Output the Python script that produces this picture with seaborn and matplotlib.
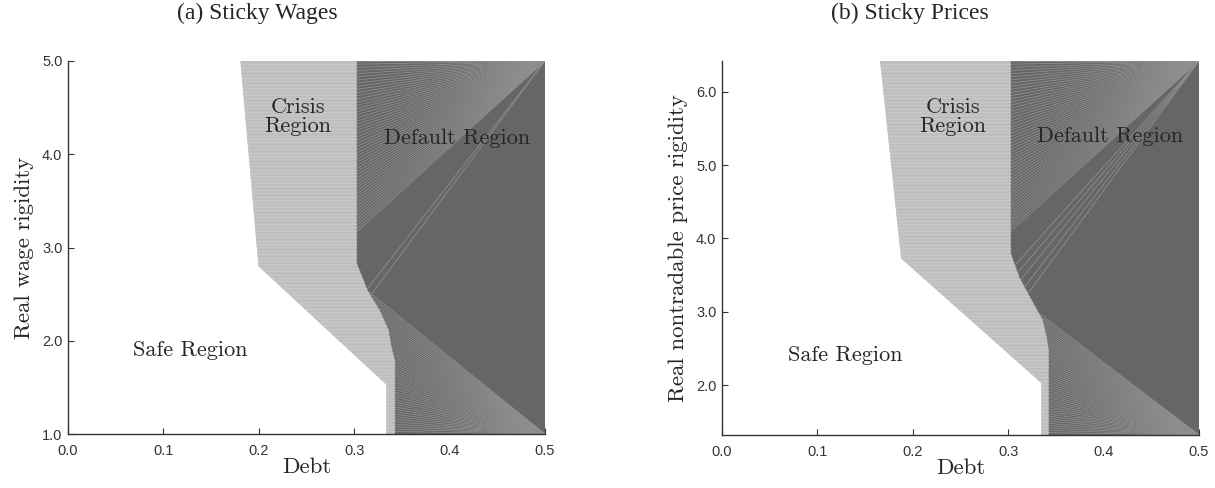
import numpy as np
import matplotlib
matplotlib.use("Agg")
import matplotlib.pyplot as plt
import seaborn as sns
from matplotlib.patches import Polygon
from matplotlib.collections import LineCollection

# ---------------- data ----------------
x_ticks = [0.0, 0.1, 0.2, 0.3, 0.4, 0.5]
x_tick_labels = ["0.0", "0.1", "0.2", "0.3", "0.4", "0.5"]

# (a) Sticky Wages
wage_y_ticks = [1.0, 2.0, 3.0, 4.0, 5.0]
wage_y_labels = ["1.0", "2.0", "3.0", "4.0", "5.0"]
wage_ylim = (1.0, 5.0)
wage_crisis_x = [0.181, 0.200, 0.334, 0.334]          # safe / crisis boundary
wage_crisis_y = [5.00, 2.80, 1.53, 1.00]
wage_default_x = [0.303, 0.303, 0.3145, 0.327, 0.3365, 0.3396, 0.343, 0.343]  # crisis / default
wage_default_y = [5.00, 2.83, 2.54, 2.33, 2.115, 1.93, 1.79, 1.00]

# (b) Sticky Prices
price_y_ticks = [2.0, 3.0, 4.0, 5.0, 6.0]
price_y_labels = ["2.0", "3.0", "4.0", "5.0", "6.0"]
price_ylim = (1.32, 6.42)
price_crisis_x = [0.166, 0.188, 0.335, 0.335]
price_crisis_y = [6.42, 3.73, 2.03, 1.32]
price_default_x = [0.303, 0.303, 0.312, 0.325, 0.3365, 0.3407, 0.3428, 0.3428]
price_default_y = [6.42, 3.80, 3.47, 3.16, 2.89, 2.655, 2.48, 1.32]

# region labels (x, y)
wage_labels = {"Crisis\nRegion": (0.241, 4.40), "Default Region": (0.408, 4.17),
               "Safe Region": (0.128, 1.90)}
price_labels = {"Crisis\nRegion": (0.242, 5.66), "Default Region": (0.407, 5.39),
                "Safe Region": (0.129, 2.41)}

# texture lines of the rendered patches (end points on the left side)
wage_top_fan = (3.05, 5.0)      # y-range of top fan ends at x=0.29
wage_bottom_fan = (1.0, 2.65)   # y-range of bottom fan ends at x=0.30
wage_diag_ends = [(0.314, 2.56), (0.318, 2.50)]
price_top_fan = (3.95, 6.42)
price_bottom_fan = (1.32, 3.30)
price_diag_ends = [(0.306, 3.62), (0.309, 3.52), (0.312, 3.42), (0.316, 3.32), (0.320, 3.24)]

LIGHT = "#bfbfbf"
STRIPE = "#cdcdcd"
DARK = "#666666"
FAN = "#8e8e8e"

sns.set_theme(style="ticks")
plt.rcParams["font.family"] = ["Liberation Sans", "DejaVu Sans"]

fig = plt.figure(figsize=(12.15, 4.88), dpi=100)
ax_a = fig.add_axes([68 / 1215, (488 - 434) / 488, 477 / 1215, 373 / 488])
ax_b = fig.add_axes([722 / 1215, (488 - 435) / 488, 477 / 1215, 374 / 488])

SERIF = ["cmr10", "DejaVu Serif"]


def draw_panel(ax, cx, cy, dx, dy, ylim, top_fan, bottom_fan, diag_ends,
               yticks, ylabels, ylabel, labels):
    ymin, ymax = ylim
    crisis_poly = list(zip(cx, cy)) + list(zip(dx[::-1], dy[::-1]))
    default_poly = list(zip(dx, dy)) + [(0.5, ymin), (0.5, ymax)]

    pc = Polygon(crisis_poly, closed=True, facecolor=LIGHT, edgecolor=LIGHT, lw=0.5, zorder=1)
    pd = Polygon(default_poly, closed=True, facecolor=DARK, edgecolor=DARK, lw=0.5, zorder=1)
    ax.add_patch(pc)
    ax.add_patch(pd)

    # horizontal stripe texture in the crisis region
    ys = np.arange(ymin, ymax, (ymax - ymin) / 110.0)
    st = ax.hlines(ys, 0, 0.5, color=STRIPE, lw=0.5, zorder=2)
    st.set_clip_path(pc)

    # fan textures in the default region
    segs = []
    for y in np.linspace(top_fan[0], top_fan[1], 55):
        segs.append([(0.5, ymax), (0.29, y)])
    for y in np.linspace(bottom_fan[0], bottom_fan[1], 50):
        segs.append([(0.5, ymin), (0.30, y)])
    for (ex, ey) in diag_ends:
        segs.append([(0.5, ymax), (ex, ey)])
    lc = LineCollection(segs, colors=FAN, linewidths=0.6, zorder=2)
    ax.add_collection(lc)
    lc.set_clip_path(pd)

    ax.set_xlim(0, 0.5)
    ax.set_ylim(ymin, ymax)
    ax.set_xticks(x_ticks)
    ax.set_xticklabels(x_tick_labels)
    ax.set_yticks(yticks)
    ax.set_yticklabels(ylabels)
    ax.tick_params(direction="in", length=4, width=0.8, labelsize=10.5,
                   colors="#333333")
    ax.tick_params(axis="x", pad=7)
    ax.tick_params(axis="y", pad=4)
    for s in ("left", "bottom"):
        ax.spines[s].set_color("#333333")
        ax.spines[s].set_linewidth(1.0)
    sns.despine(ax=ax)
    ax.set_xlabel("Debt", fontsize=16.5, family=SERIF, labelpad=0)
    ax.set_ylabel(ylabel, fontsize=16.5, family=SERIF, labelpad=6)
    for txt, (tx, ty) in labels.items():
        ax.text(tx, ty, txt, ha="center", va="center", fontsize=16,
                family=SERIF, linespacing=1.0, zorder=5)


draw_panel(ax_a, wage_crisis_x, wage_crisis_y, wage_default_x, wage_default_y,
           wage_ylim, wage_top_fan, wage_bottom_fan, wage_diag_ends,
           wage_y_ticks, wage_y_labels, "Real wage rigidity", wage_labels)
draw_panel(ax_b, price_crisis_x, price_crisis_y, price_default_x, price_default_y,
           price_ylim, price_top_fan, price_bottom_fan, price_diag_ends,
           price_y_ticks, price_y_labels, "Real nontradable price rigidity", price_labels)

fig.text(257 / 1215, 1 - 13 / 488, "(a) Sticky Wages", ha="center", va="center",
         fontsize=17, family=["Liberation Serif", "DejaVu Serif"])
fig.text(910 / 1215, 1 - 13 / 488, "(b) Sticky Prices", ha="center", va="center",
         fontsize=17, family=["Liberation Serif", "DejaVu Serif"])

fig.savefig("out.png", dpi=100)
